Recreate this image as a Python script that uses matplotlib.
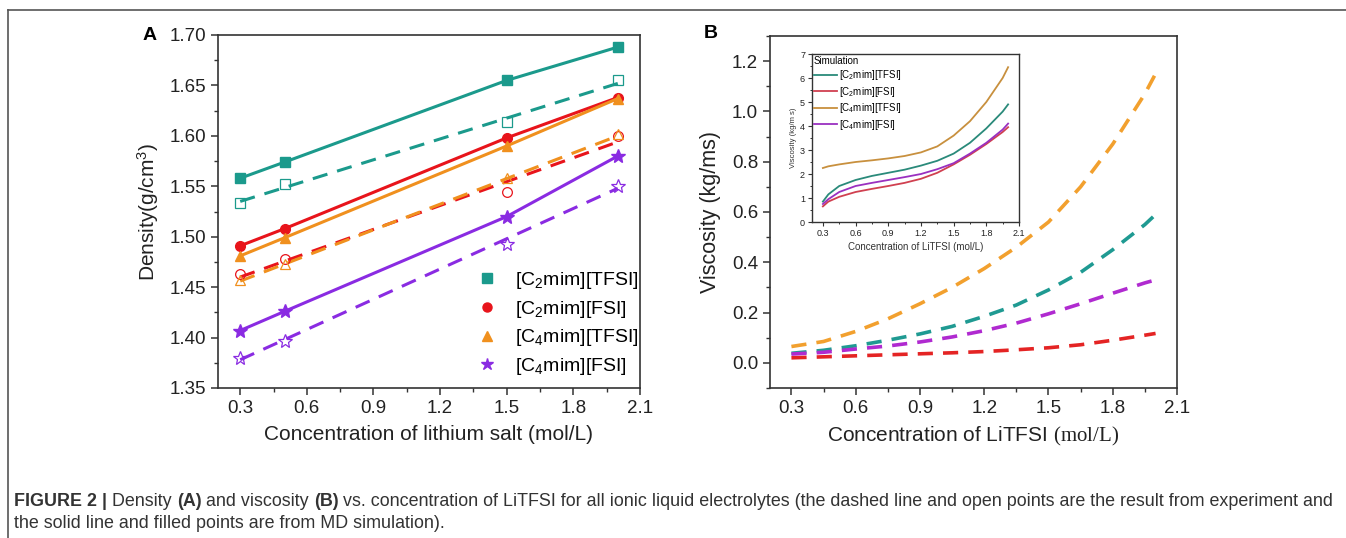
import matplotlib
matplotlib.use("Agg")
import matplotlib.pyplot as plt
from matplotlib.lines import Line2D
from matplotlib.ticker import MultipleLocator

plt.rcParams["font.family"] = ["Liberation Sans", "DejaVu Sans"]
plt.rcParams["mathtext.fontset"] = "custom"
plt.rcParams["mathtext.default"] = "regular"
plt.rcParams["mathtext.tt"] = "Liberation Serif"

# ---- data -------------------------------------------------------------
names = ["[C$_2$mim][TFSI]", "[C$_2$mim][FSI]", "[C$_4$mim][TFSI]", "[C$_4$mim][FSI]"]

# panel A: density
conc_pts = [0.3, 0.5, 1.5, 2.0]
dens_sim = [
    [1.558, 1.574, 1.655, 1.688],
    [1.491, 1.508, 1.598, 1.638],
    [1.481, 1.499, 1.590, 1.637],
    [1.407, 1.426, 1.520, 1.580],
]
dens_exp = [
    [1.533, 1.552, 1.614, 1.655],
    [1.463, 1.478, 1.544, 1.600],
    [1.457, 1.473, 1.558, 1.602],
    [1.380, 1.397, 1.493, 1.550],
]
fit_x = [0.3, 2.0]
dens_fit = [
    [1.535, 1.652],
    [1.460, 1.594],
    [1.456, 1.600],
    [1.378, 1.548],
]

# panel B: viscosity, experiment (dashed)
visc_x = [0.3, 0.45, 0.6, 0.75, 0.9, 1.05, 1.2, 1.35, 1.5, 1.65, 1.8, 1.95, 2.0]
visc_exp = [
    [0.038, 0.050, 0.068, 0.090, 0.115, 0.145, 0.185, 0.230, 0.290, 0.360, 0.450, 0.550, 0.590],
    [0.020, 0.024, 0.028, 0.032, 0.036, 0.040, 0.045, 0.052, 0.060, 0.072, 0.090, 0.110, 0.117],
    [0.065, 0.085, 0.125, 0.175, 0.235, 0.300, 0.375, 0.460, 0.560, 0.700, 0.870, 1.070, 1.150],
    [0.035, 0.042, 0.055, 0.067, 0.083, 0.103, 0.128, 0.158, 0.195, 0.235, 0.277, 0.318, 0.330],
]

# inset: viscosity, simulation
sim_x = [0.3, 0.35, 0.45, 0.6, 0.75, 0.9, 1.05, 1.2, 1.35, 1.5, 1.65, 1.8, 1.95, 2.0]
visc_sim = [
    [0.85, 1.15, 1.50, 1.75, 1.92, 2.05, 2.18, 2.35, 2.55, 2.85, 3.30, 3.90, 4.60, 4.90],
    [0.65, 0.85, 1.05, 1.25, 1.38, 1.50, 1.63, 1.80, 2.05, 2.40, 2.80, 3.25, 3.75, 3.95],
    [2.25, 2.32, 2.40, 2.50, 2.57, 2.65, 2.75, 2.90, 3.15, 3.60, 4.20, 5.00, 6.00, 6.45],
    [0.75, 0.95, 1.25, 1.50, 1.63, 1.75, 1.87, 2.00, 2.20, 2.45, 2.85, 3.30, 3.85, 4.10],
]

xtick_vals = [0.3, 0.6, 0.9, 1.2, 1.5, 1.8, 2.1]
xtick_labels = ["0.3", "0.6", "0.9", "1.2", "1.5", "1.8", "2.1"]

colors_a = ["#1b9a8c", "#e8141b", "#f0901e", "#8a2be2"]
colors_b = ["#1f9a92", "#e42424", "#f2a02e", "#b02ad0"]
colors_in = ["#2a8a7a", "#d04050", "#c8903e", "#9a30c0"]
markers = ["s", "o", "^", "*"]

# ---- figure -----------------------------------------------------------
W, H = 1346, 538
fig = plt.figure(figsize=(W / 100, H / 100), dpi=100)

def px_axes(l, t, r, b):
    return fig.add_axes([l / W, 1 - b / H, (r - l) / W, (b - t) / H])

def style(ax, fs):
    for s in ax.spines.values():
        s.set_color("#333333")
        s.set_linewidth(1.2)
    ax.tick_params(which="both", direction="out", top=False, right=False,
                   color="#333333", labelsize=fs, labelcolor="#222222")
    ax.tick_params(which="major", length=5, width=1.1)
    ax.tick_params(which="minor", length=3, width=1.0)

# panel A
axA = px_axes(218, 35, 640, 388)
for i in range(4):
    ms = 10 if markers[i] == "*" else 7
    axA.plot(conc_pts, dens_sim[i], color=colors_a[i], lw=2.2, marker=markers[i],
             ms=ms, zorder=3)
    axA.plot(fit_x, dens_fit[i], color=colors_a[i], lw=2.2, dashes=(5, 3.3), zorder=2)
    axA.plot(conc_pts, dens_exp[i], ls="none", marker=markers[i], mfc="none",
             mec=colors_a[i], mew=0.9, ms=ms, zorder=4)
axA.set_xlim(0.2, 2.1)
axA.set_ylim(1.35, 1.70)
axA.set_xticks(xtick_vals)
axA.set_xticklabels(xtick_labels)
axA.xaxis.set_minor_locator(MultipleLocator(0.15))
axA.yaxis.set_major_locator(MultipleLocator(0.05))
axA.yaxis.set_minor_locator(MultipleLocator(0.025))
style(axA, 13.5)
axA.set_xlabel("Concentration of lithium salt (mol/L)", fontsize=15, color="#222222", labelpad=6)
axA.set_ylabel("Density(g/cm$^3$)", fontsize=15, color="#222222", labelpad=6)
handles = [Line2D([], [], ls="none", marker=markers[i], color=colors_a[i],
                  ms=9 if markers[i] == "*" else 6.5) for i in range(4)]
axA.legend(handles, names, loc="lower right", bbox_to_anchor=(1.0, 0.028),
           frameon=False, fontsize=14, handlelength=1.0, handletextpad=0.95,
           labelspacing=0.4, borderaxespad=0.05, borderpad=0.0)

# panel B
axB = px_axes(770, 36, 1177, 388)
for i in range(4):
    axB.plot(visc_x, visc_exp[i], color=colors_b[i], lw=2.6, dashes=(4.2, 2.8))
axB.set_xlim(0.2, 2.1)
axB.set_ylim(-0.1, 1.3)
axB.set_xticks(xtick_vals)
axB.set_xticklabels(xtick_labels)
axB.xaxis.set_minor_locator(MultipleLocator(0.15))
axB.set_yticks([0.0, 0.2, 0.4, 0.6, 0.8, 1.0, 1.2])
axB.yaxis.set_minor_locator(MultipleLocator(0.1))
style(axB, 13.5)
axB.set_xlabel(r"Concentration of LiTFSI $\mathtt{(mol/L)}$", fontsize=15, color="#222222", labelpad=6)
axB.set_ylabel("Viscosity (kg/ms)", fontsize=15.5, color="#222222", labelpad=8)

# inset
axI = px_axes(812, 54, 1019, 222)
for i in range(4):
    axI.plot(sim_x, visc_sim[i], color=colors_in[i], lw=1.3, label=names[i])
axI.set_xlim(0.2, 2.1)
axI.set_ylim(0, 7)
axI.set_xticks(xtick_vals)
axI.set_xticklabels(xtick_labels)
axI.set_yticks(range(8))
axI.xaxis.set_minor_locator(MultipleLocator(0.15))
axI.yaxis.set_minor_locator(MultipleLocator(0.5))
style(axI, 6.5)
axI.tick_params(which="major", length=3, width=0.8, pad=2)
axI.tick_params(which="minor", length=1.5, width=0.7)
for s in axI.spines.values():
    s.set_linewidth(1.0)
axI.set_xlabel("Concentration of LiTFSI (mol/L)", fontsize=7, color="#333333", labelpad=3)
axI.set_ylabel("Viscosity (kg/m s)", fontsize=5.5, color="#333333", labelpad=2)
legI = axI.legend(loc="upper left", frameon=False, fontsize=7, title="Simulation",
                  title_fontsize=7, handlelength=2.4, handletextpad=0.2,
                  labelspacing=0.25, borderaxespad=0.1, borderpad=0.1)
legI._legend_box.align = "left"

# panel letters
fig.text(150 / W, 1 - 35 / H, "A", fontsize=14, fontweight="bold", va="center", ha="center")
fig.text(711 / W, 1 - 34 / H, "B", fontsize=14, fontweight="bold", va="center", ha="center")

# frame
fig.add_artist(Line2D([8 / W, 1], [1 - 10 / H, 1 - 10 / H], color="#555555", lw=1.2,
                      transform=fig.transFigure))
fig.add_artist(Line2D([8 / W, 8 / W], [0, 1 - 10 / H], color="#555555", lw=1.2,
                      transform=fig.transFigure))

# caption
renderer = fig.canvas.get_renderer()

def caption_line(x, y, parts, fs=12.9):
    for txt, bold in parts:
        t = fig.text(x / W, 1 - y / H, txt, fontsize=fs, va="baseline", color="#333333",
                     fontweight="bold" if bold else "normal")
        x += t.get_window_extent(renderer).width

caption_line(14, 506, [("FIGURE 2 | ", True), ("Density ", False), ("(A)", True),
                       (" and viscosity ", False), ("(B)", True),
                       (" vs. concentration of LiTFSI for all ionic liquid electrolytes "
                        "(the dashed line and open points are the result from experiment and", False)])
caption_line(14, 528, [("the solid line and filled points are from MD simulation).", False)])

fig.savefig("out.png", dpi=100)
